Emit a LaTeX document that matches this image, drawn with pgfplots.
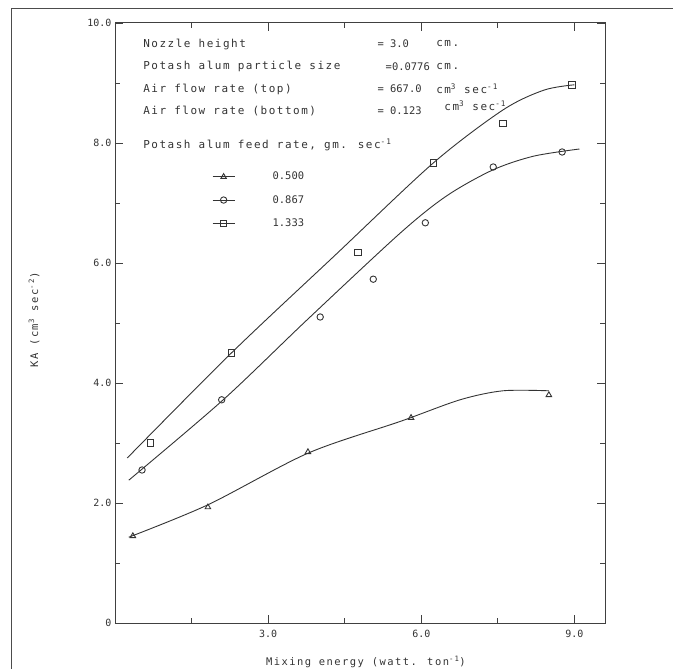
\documentclass[border=0pt]{standalone}
\usepackage{fontspec}
\usepackage{pgfplots}
\pgfplotsset{compat=1.18}
\newfontfamily\plt{DejaVu Sans Mono}[LetterSpace=14]
\newfontfamily\pltn{DejaVu Sans Mono}
\newcommand{\ann}{\plt\fontsize{11}{13}\selectfont}
\newcommand{\val}{\pltn\fontsize{10.5}{12}\selectfont}
\begin{document}
\begin{tikzpicture}[x=1bp,y=1bp]
\useasboundingbox (-115,-46) rectangle (558,623);
% scan frame
\draw[black!70, line width=1pt] (-104,-60) -- (-104,614) -- (560,614);
\begin{axis}[
  at={(0,0)}, anchor=south west,
  width=490bp, height=600bp, scale only axis,
  xmin=0, xmax=9.6, ymin=0, ymax=10,
  axis line style={line width=1pt, black!75},
  tick style={black!75, line width=0.8pt},
  tick align=inside, major tick length=8bp, minor tick length=5bp,
  xtick={3,6,9}, xticklabels={3.0,6.0,9.0}, minor xtick={1.5,4.5,7.5},
  ytick={0,2,4,6,8,10}, yticklabels={0,2.0,4.0,6.0,8.0,10.0}, minor ytick={1,3,5,7,9},
  xtick pos=both, ytick pos=both,
  ticklabel style={font=\pltn\fontsize{10}{11}\selectfont, text=black!80},
  xticklabel style={yshift=-4bp},
  xlabel={Mixing energy (watt. ton\textsuperscript{-1})},
  ylabel={KA (cm\textsuperscript{3} sec\textsuperscript{-2})},
  label style={font=\plt\fontsize{10.5}{12}\selectfont, text=black!80},
  xlabel style={at={(axis description cs:0.512,-0.065)}, anchor=center},
  ylabel style={at={(axis description cs:-0.165,0.505)}, anchor=center, rotate=0},
  legend style={at={(axis cs:1.9,7.55)}, anchor=north west, draw=none, fill=none,
    font=\val, inner sep=0pt, row sep=10bp, text=black!80},
  legend cell align=left,
  legend image code/.code={%
    \draw[#1] (0bp,0bp) -- (22bp,0bp);
    \draw[#1, only marks] plot coordinates {(11bp,0bp)};
    \path[draw=none] (0bp,0bp) rectangle (58bp,1bp);},
  every axis plot/.append style={black!80, line width=0.9pt},
  mark size=3.2bp,
  clip=false,
]
% fitted curves
\addplot[smooth, forget plot] coordinates {
  (0.27,1.43) (1.82,1.97) (3.78,2.83) (5.59,3.36) (6.76,3.72) (7.6,3.87) (8.5,3.87)};
\addplot[smooth, forget plot] coordinates {
  (0.27,2.38) (2.12,3.72) (3.76,5.05) (5.59,6.5) (6.5,7.12) (7.4,7.55) (8.2,7.78) (9.1,7.9)};
\addplot[smooth, forget plot] coordinates {
  (0.24,2.75) (2.28,4.5) (4.3,6.12) (6.24,7.67) (7.6,8.55) (8.4,8.88) (9.0,8.97)};
% data points
\addplot[only marks, mark=triangle, forget plot] coordinates {
  (0.35,1.45) (1.82,1.93) (3.78,2.85) (5.8,3.42) (8.5,3.8)};
\addplot[only marks, mark=o, forget plot] coordinates {
  (0.53,2.55) (2.09,3.72) (4.02,5.1) (5.06,5.73) (6.08,6.67) (7.41,7.6) (8.76,7.85)};
\addplot[only marks, mark=square, forget plot] coordinates {
  (0.7,3.0) (2.28,4.5) (4.76,6.18) (6.24,7.67) (7.6,8.33) (8.95,8.97)};
% legend
\addlegendimage{black!80, mark=triangle}
\addlegendentry{0.500}
\addlegendimage{black!80, mark=o}
\addlegendentry{0.867}
\addlegendimage{black!80, mark=square}
\addlegendentry{1.333}
% annotations
\begin{scope}[every node/.style={anchor=west, font=\ann, text=black!80, inner sep=0pt}]
\node at (axis cs:0.55,9.65) {Nozzle height};
\node[font=\val] at (axis cs:5.14,9.65) {= 3.0};
\node at (axis cs:6.29,9.65) {cm.};
\node at (axis cs:0.55,9.27) {Potash alum particle size};
\node[font=\val] at (axis cs:5.3,9.27) {=0.0776};
\node at (axis cs:6.29,9.27) {cm.};
\node at (axis cs:0.55,8.9) {Air flow rate (top)};
\node[font=\val] at (axis cs:5.14,8.9) {= 667.0};
\node at (axis cs:6.29,8.9) {cm\textsuperscript{3} sec\textsuperscript{-1}};
\node at (axis cs:0.55,8.53) {Air flow rate (bottom)};
\node[font=\val] at (axis cs:5.14,8.53) {= 0.123};
\node at (axis cs:6.45,8.62) {cm\textsuperscript{3} sec\textsuperscript{-1}};
\node at (axis cs:0.55,7.97) {Potash alum feed rate, gm. sec\textsuperscript{-1}};
\end{scope}
\end{axis}
\end{tikzpicture}
\end{document}
